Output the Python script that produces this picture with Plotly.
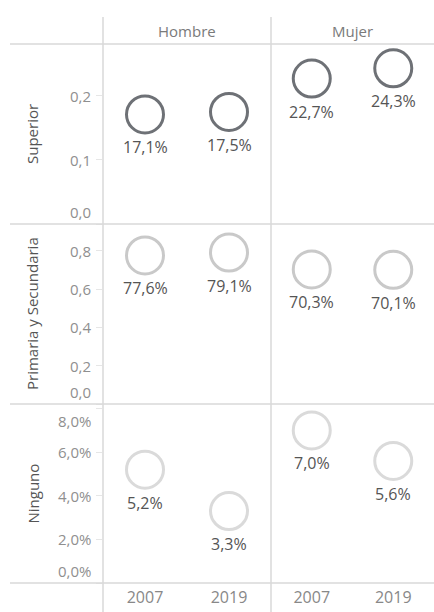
import plotly.graph_objects as go

# ---- data ----
sexes = ["Hombre", "Mujer"]
years = ["2007", "2019"]
levels = ["Superior", "Primaria y Secundaria", "Ninguno"]
superior_hombre = [0.171, 0.175]
superior_mujer = [0.227, 0.243]
primaria_hombre = [0.776, 0.791]
primaria_mujer = [0.703, 0.701]
ninguno_hombre = [0.052, 0.033]
ninguno_mujer = [0.070, 0.056]

superior_ticks = [0.0, 0.1, 0.2]
superior_ticktext = ["0,0", "0,1", "0,2"]
primaria_ticks = [0.0, 0.2, 0.4, 0.6, 0.8]
primaria_ticktext = ["0,0", "0,2", "0,4", "0,6", "0,8"]
ninguno_ticks = [0.0, 0.02, 0.04, 0.06, 0.08]
ninguno_ticktext = ["0,0%", "2,0%", "4,0%", "6,0%", "8,0%"]

values = [
    [superior_hombre, superior_mujer],
    [primaria_hombre, primaria_mujer],
    [ninguno_hombre, ninguno_mujer],
]
tick_vals = [superior_ticks, primaria_ticks, ninguno_ticks]
tick_texts = [superior_ticktext, primaria_ticktext, ninguno_ticktext]
y_ranges = [[0, 0.281], [0, 0.94], [0, 0.0821]]
ring_colors = ["#6e7176", "#c9c9c9", "#dadada"]

# ---- layout geometry (pixels) ----
W, H = 434, 612
col_px = [(103, 271), (271, 434)]
row_px = [(44, 224), (224, 404), (404, 583)]
FONT = "Open Sans"


def px_x(p):
    return p / W


def px_y(p):
    return 1 - p / H


fig = go.Figure()
annotations = []
shapes = []

idx = 0
for r in range(3):
    for c in range(2):
        idx += 1
        xa = "x" if idx == 1 else f"x{idx}"
        ya = "y" if idx == 1 else f"y{idx}"
        vals = values[r][c]
        labels = [f"{v*100:.1f}%".replace(".", ",") for v in vals]
        xs = [0, 1]
        fig.add_trace(go.Scatter(
            x=xs, y=vals, xaxis=xa, yaxis=ya,
            mode="markers",
            marker=dict(symbol="circle-open", size=37, color=ring_colors[r],
                        line=dict(width=3, color=ring_colors[r])),
            hoverinfo="skip", showlegend=False, cliponaxis=False,
        ))
        for xv, yv, lab in zip(xs, vals, labels):
            annotations.append(dict(
                x=xv, y=yv, xref=xa, yref=ya, text=lab, showarrow=False,
                xanchor="center", yanchor="middle", yshift=-33,
                font=dict(family=FONT, size=16, color="#555555"),
            ))
        xkey = "xaxis" if idx == 1 else f"xaxis{idx}"
        ykey = "yaxis" if idx == 1 else f"yaxis{idx}"
        x0, x1 = col_px[c]
        y0, y1 = row_px[r]
        fig.layout[xkey] = dict(
            domain=[px_x(x0), px_x(x1)], range=[-0.5, 1.5],
            anchor=ya, showgrid=False, zeroline=False, showline=False,
            tickvals=[0, 1], ticktext=years, ticks="",
            showticklabels=(r == 2),
            tickfont=dict(family=FONT, size=16, color="#888888"),
            ticklabelstandoff=3,
        )
        fig.layout[ykey] = dict(
            domain=[px_y(y1), px_y(y0)], range=y_ranges[r],
            anchor=xa, showgrid=False, zeroline=False, showline=False,
            tickvals=tick_vals[r], ticks="outside" if c == 0 else "",
            ticklen=6, tickcolor="#e6e6e6", showticklabels=False,
        )
        if c == 0:
            top = y_ranges[r][1]
            for v, t in zip(tick_vals[r], tick_texts[r]):
                if v == 0:
                    anc = "bottom"
                elif v > top * 0.95:
                    anc = "top"
                else:
                    anc = "middle"
                annotations.append(dict(
                    x=px_x(93), xref="paper", y=v, yref=ya,
                    text=t, showarrow=False, xanchor="right", yanchor=anc,
                    font=dict(family=FONT, size=15, color="#8f8f8f"),
                ))

# row headers (rotated)
for r, name in enumerate(levels):
    y0, y1 = row_px[r]
    annotations.append(dict(
        x=px_x(32), y=px_y((y0 + y1) / 2), xref="paper", yref="paper",
        text=name, textangle=-90, showarrow=False,
        xanchor="center", yanchor="middle",
        font=dict(family=FONT, size=15, color="#555555"),
    ))

# column headers
for c, name in enumerate(sexes):
    x0, x1 = col_px[c]
    annotations.append(dict(
        x=px_x((x0 + x1) / 2), y=px_y(31), xref="paper", yref="paper",
        text=name, showarrow=False, xanchor="center", yanchor="middle",
        font=dict(family=FONT, size=15, color="#7a7a7a"),
    ))

# separator lines
line_style = dict(color="#d9d9d9", width=1.5)
for py in [44, 224, 404, 583]:
    shapes.append(dict(type="line", xref="paper", yref="paper",
                       x0=px_x(10), x1=1, y0=px_y(py), y1=px_y(py), line=line_style))
for px in [103, 271]:
    shapes.append(dict(type="line", xref="paper", yref="paper",
                       x0=px_x(px), x1=px_x(px), y0=px_y(17), y1=0, line=line_style))

fig.update_layout(
    width=W, height=H,
    margin=dict(l=0, r=0, t=0, b=0),
    paper_bgcolor="white", plot_bgcolor="white",
    annotations=annotations, shapes=shapes,
)

fig.write_html(
    "out.html",
    config={"displayModeBar": False},
    post_script="document.body.style.margin='0';document.body.style.padding='0';"
                "document.body.style.overflow='hidden';",
)
